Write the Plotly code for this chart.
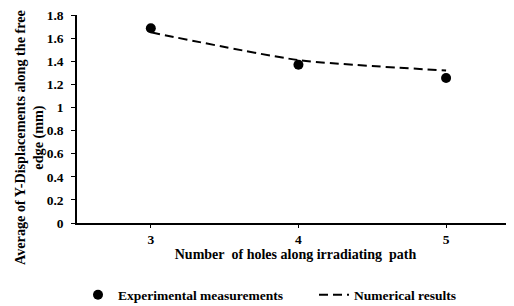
import plotly.graph_objects as go

holes = [3, 4, 5]
experimental = [1.685, 1.37, 1.255]
numerical = [1.65, 1.41, 1.32]
y_ticks = [0, 0.2, 0.4, 0.6, 0.8, 1, 1.2, 1.4, 1.6, 1.8]
y_tick_text = ["0", "0.2", "0.4", "0.6", "0.8", "1", "1.2", "1.4", "1.6", "1.8"]

font = dict(family="Liberation Serif, Times New Roman, serif", color="black", weight="bold")

# page has an 8px body margin: figure coords = page coords - 8
W, H = 506, 298
L, T, B = 69, 7, 83
plot_w = W - L
plot_h = H - T - B

def px_x(page_x):
    return (page_x - 8 - L) / plot_w

def px_y(page_y):
    return (H - B - (page_y - 8)) / plot_h

fig = go.Figure()
fig.add_trace(go.Scatter(
    x=holes, y=experimental, mode="markers", name="Experimental measurements",
    marker=dict(color="black", size=10, symbol="circle"), legend="legend",
))
fig.add_trace(go.Scatter(
    x=holes, y=numerical, mode="lines", name="Numerical results",
    line=dict(color="black", width=2, dash="9px,5px", shape="spline", smoothing=0.6),
    legend="legend2",
))

leg_common = dict(orientation="h", yanchor="middle", xanchor="left",
                  font=dict(**font, size=13.5), bgcolor="rgba(0,0,0,0)")

fig.update_layout(
    width=W, height=H,
    margin=dict(l=L, r=0, t=T, b=B, autoexpand=False),
    paper_bgcolor="white", plot_bgcolor="white",
    font=dict(**font, size=13.5),
    showlegend=True,
    legend=dict(**leg_common, x=px_x(78), y=px_y(295)),
    legend2=dict(**leg_common, x=px_x(314), y=px_y(295)),
    xaxis=dict(
        range=[2.5, 5.46], tickmode="array", tickvals=holes, ticktext=[str(h) for h in holes],
        showline=True, linecolor="black", linewidth=1.5, ticks="outside", ticklen=3,
        tickcolor="black", showgrid=False, zeroline=False, automargin=False,
        ticklabeloverflow="allow",
        tickfont=dict(**font, size=13.5),
        title=dict(text="Number\u00a0 of holes along irradiating\u00a0 path",
                   font=dict(**font, size=14), standoff=3),
    ),
    yaxis=dict(
        range=[0, 1.8], tickmode="array", tickvals=y_ticks, ticktext=y_tick_text,
        showline=True, linecolor="black", linewidth=1.5, ticks="outside", ticklen=4,
        tickcolor="black", showgrid=False, zeroline=False, automargin=False,
        ticklabeloverflow="allow", ticklabelstandoff=5,
        tickfont=dict(**font, size=13.5),
    ),
    annotations=[dict(
        text="Average of Y-Displacements along the free<br>edge (mm)",
        xref="paper", yref="paper", x=px_x(29), y=px_y(138), xanchor="center", yanchor="middle",
        textangle=-90, showarrow=False, font=dict(**font, size=14.2),
    )],
)

fig.write_html("out.html")
